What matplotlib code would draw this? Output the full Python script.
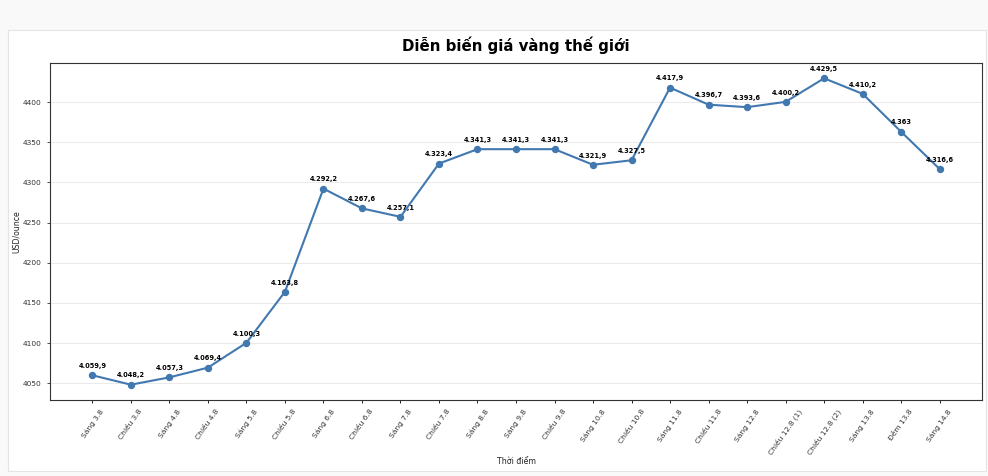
import matplotlib
matplotlib.use("Agg")
import matplotlib.pyplot as plt
from matplotlib.patches import Rectangle

labels = ["Sáng 3.8", "Chiều 3.8", "Sáng 4.8", "Chiều 4.8", "Sáng 5.8", "Chiều 5.8",
          "Sáng 6.8", "Chiều 6.8", "Sáng 7.8", "Chiều 7.8", "Sáng 8.8", "Sáng 9.8",
          "Chiều 9.8", "Sáng 10.8", "Chiều 10.8", "Sáng 11.8", "Chiều 11.8", "Sáng 12.8",
          "Chiều 12.8 (1)", "Chiều 12.8 (2)", "Sáng 13.8", "Đêm 13.8", "Sáng 14.8"]
prices = [4059.9, 4048.2, 4057.3, 4069.4, 4100.3, 4163.8,
          4292.2, 4267.6, 4257.1, 4323.4, 4341.3, 4341.3,
          4341.3, 4321.9, 4327.5, 4417.9, 4396.7, 4393.6,
          4400.2, 4429.5, 4410.2, 4363.0, 4316.6]
y_ticks = [4050, 4100, 4150, 4200, 4250, 4300, 4350, 4400]


def vn_fmt(v):
    s = f"{v:,.1f}"
    s = s.replace(",", "X").replace(".", ",").replace("X", ".")
    if s.endswith(",0"):
        s = s[:-2]
    return s


fig = plt.figure(figsize=(9.88, 4.76), dpi=100, facecolor="#f9f9f9")
bg = Rectangle((8 / 988, 1 - 471 / 476), (986 - 8) / 988, (471 - 30) / 476,
               transform=fig.transFigure, facecolor="white",
               edgecolor="#e4e4e4", linewidth=0.8, zorder=-10)
fig.patches.append(bg)
ax = fig.add_axes([50 / 988, 1 - 400 / 476, (982 - 50) / 988, (400 - 63) / 476])
ax.set_zorder(1)

x = list(range(len(labels)))
ax.plot(x, prices, color="#4178b0", linewidth=1.5, marker="o", markersize=4.3, zorder=3)

for xi, v in zip(x, prices):
    ax.annotate(vn_fmt(v), (xi, v), xytext=(0, 4.5), textcoords="offset points",
                ha="center", va="bottom", fontsize=4.8, fontweight="bold", color="black",
                zorder=4)

ax.set_xticks(x)
ax.set_xticklabels(labels, rotation=55, fontsize=5.4, color="#333333")
ax.set_yticks(y_ticks)
ax.tick_params(axis="y", labelsize=5.4, colors="#333333", length=2.5, width=0.6)
ax.tick_params(axis="x", length=2.5, width=0.6)
ax.grid(axis="y", color="#e6e6e6", linewidth=0.6)
ax.set_axisbelow(True)
for sp in ax.spines.values():
    sp.set_color("#333333")
    sp.set_linewidth(0.8)

ax.set_xlabel("Thời điểm", fontsize=5.6, color="#222222", labelpad=0.5)
ax.set_ylabel("USD/ounce", fontsize=5.6, color="#222222", labelpad=1.5)
fig.text(516 / 988, 1 - 45 / 476, "Diễn biến giá vàng thế giới", ha="center", va="center",
         fontsize=10.8, fontweight="bold")

fig.savefig("out.png", dpi=100, facecolor=fig.get_facecolor())
